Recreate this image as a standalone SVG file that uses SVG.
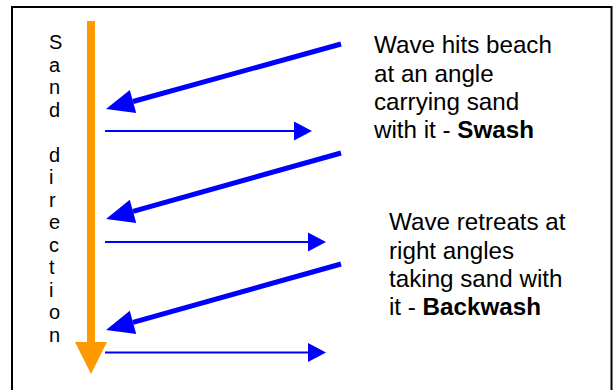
<svg xmlns="http://www.w3.org/2000/svg" width="613" height="390" viewBox="0 0 613 390">
<defs>
<style>
.txt{font-family:"Liberation Sans",Arial,sans-serif;fill:#000}
.lbl{font-size:24.2px}
.vert{font-size:20px}
.thick{stroke:#0000FF;stroke-width:5;fill:none}
.thin{stroke:#0000FF;stroke-width:2;fill:none}
</style>
<marker id="hThick" markerUnits="userSpaceOnUse" markerWidth="30" markerHeight="26" refX="0" refY="12" orient="auto" overflow="visible">
<path d="M0,0 L28,12 L0,24 z" fill="#0000FF"/>
</marker>
<marker id="hThin" markerUnits="userSpaceOnUse" markerWidth="20" markerHeight="20" refX="0" refY="9.5" orient="auto" overflow="visible">
<path d="M0,0 L18,9.5 L0,19 z" fill="#0000FF"/>
</marker>
</defs>
<rect x="0" y="0" width="613" height="390" fill="#fff"/>
<rect id="frame" x="12" y="7" width="599.5" height="400" fill="none" stroke="#000" stroke-width="2"/>
<g id="sand-direction">
<line x1="91" y1="21" x2="91" y2="343" stroke="#FF9900" stroke-width="8"/>
<polygon points="75,342 107,342 91,374" fill="#FF9900"/>
<text class="txt vert" x="49">
<tspan x="49" y="49">S</tspan>
<tspan x="49" y="71.5">a</tspan>
<tspan x="49" y="94">n</tspan>
<tspan x="49" y="116.5">d</tspan>
<tspan x="49" y="161.5">d</tspan>
<tspan x="49" y="184">i</tspan>
<tspan x="49" y="206.5">r</tspan>
<tspan x="49" y="229">e</tspan>
<tspan x="49" y="251.5">c</tspan>
<tspan x="49" y="274">t</tspan>
<tspan x="49" y="296.5">i</tspan>
<tspan x="49" y="319">o</tspan>
<tspan x="49" y="341.5">n</tspan>
</text>
</g>
<g id="connectors">
<line class="thick" x1="341" y1="44" x2="133" y2="101.5" marker-end="url(#hThick)"/>
<line class="thick" x1="341" y1="153" x2="133" y2="211.4" marker-end="url(#hThick)"/>
<line class="thick" x1="341" y1="264" x2="133" y2="322.4" marker-end="url(#hThick)"/>
<line class="thin" x1="105" y1="131" x2="294" y2="131" marker-end="url(#hThin)"/>
<line class="thin" x1="105" y1="242" x2="308" y2="242" marker-end="url(#hThin)"/>
<line class="thin" x1="105" y1="352.5" x2="308" y2="352.5" marker-end="url(#hThin)"/>
</g>
<g id="swash-label">
<text class="txt lbl">
<tspan x="374" y="53">Wave hits beach</tspan>
<tspan x="374" y="81.5">at an angle</tspan>
<tspan x="374" y="110">carrying sand</tspan>
<tspan x="374" y="138">with it - <tspan font-weight="bold">Swash</tspan></tspan>
</text>
</g>
<g id="backwash-label">
<text class="txt lbl">
<tspan x="389" y="230">Wave retreats at</tspan>
<tspan x="389" y="258.5">right angles</tspan>
<tspan x="389" y="287">taking sand with</tspan>
<tspan x="389" y="315">it - <tspan font-weight="bold">Backwash</tspan></tspan>
</text>
</g>
</svg>
